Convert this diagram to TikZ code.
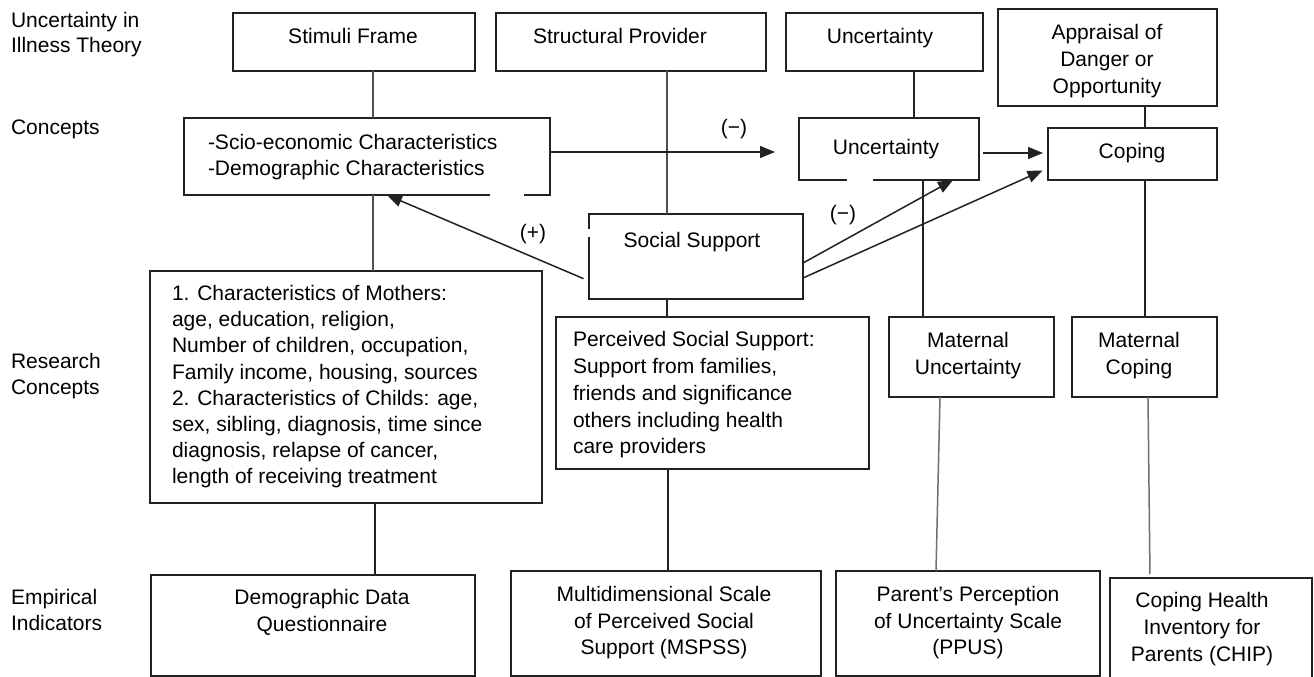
\documentclass[tikz,border=0pt]{standalone}
\usepackage{fontspec}
\setmainfont{Liberation Sans}
\usetikzlibrary{arrows.meta}
\definecolor{ln}{HTML}{222222}
\definecolor{gl}{HTML}{505050}
\definecolor{glb}{HTML}{707070}
\begin{document}
\begin{tikzpicture}[x=1pt,y=-1pt,
  bx/.style={draw=ln, line width=1.7pt, inner sep=0pt, outer sep=0pt, anchor=north west},
  tx/.style={inner sep=0pt, outer sep=0pt, font=\fontsize{21}{26.5}\selectfont},
  con/.style={draw=ln, line width=1.5pt},
  gcon/.style={draw=gl, line width=1.5pt},
  lcon/.style={draw=glb, line width=1.5pt},
  arr/.style={con, -{Triangle[length=15pt,width=12pt]}},
  gap/.style={draw=white, line width=3pt}
]
\path[use as bounding box] (0,0) rectangle (1314,677);
\clip (0,0) rectangle (1314,677);
\fill[white] (0,0) rectangle (1314,677);

% row labels
\node[tx, anchor=north west, align=left, font=\fontsize{21}{24.5}\selectfont] (lab1) at (11,12.5) {Uncertainty in\\Illness Theory};
\node[tx, anchor=base west] (lab2) at (11,134) {Concepts};
\node[tx, anchor=north west, align=left, font=\fontsize{21}{26}\selectfont] (lab3) at (11,353.5) {Research\\Concepts};
\node[tx, anchor=north west, align=left, font=\fontsize{21}{26.7}\selectfont] (lab4) at (11,589) {Empirical\\Indicators};

% boxes
\node[bx, minimum width=242pt, minimum height=58pt] (stim) at (233,13) {};
\node[bx, minimum width=270pt, minimum height=58pt] (struct) at (496,13) {};
\node[bx, minimum width=197pt, minimum height=58pt] (unctop) at (786,13) {};
\node[bx, minimum width=219pt, minimum height=97pt] (appr) at (998,9) {};
\node[bx, minimum width=366pt, minimum height=77pt] (scio) at (184,118) {};
\node[bx, minimum width=180pt, minimum height=62pt] (uncmid) at (799,118) {};
\node[bx, minimum width=169pt, minimum height=52pt] (coping) at (1048,128) {};
\node[bx, minimum width=214pt, minimum height=85pt] (ss) at (589,214) {};
\node[bx, minimum width=392pt, minimum height=232pt] (char) at (150,271) {};
\node[bx, minimum width=313pt, minimum height=152pt] (perc) at (556,317) {};
\node[bx, minimum width=165pt, minimum height=80pt] (matunc) at (889,317) {};
\node[bx, minimum width=145pt, minimum height=80pt] (matcop) at (1072,317) {};
\node[bx, minimum width=324pt, minimum height=101pt] (demo) at (151,575) {};
\node[bx, minimum width=310pt, minimum height=105pt] (mspss) at (511,571) {};
\node[bx, minimum width=264pt, minimum height=105pt] (ppus) at (836,571) {};
\node[bx, minimum width=202pt, minimum height=112pt] (chip) at (1110,578) {};

% small breaks in box outlines
\draw[gap] (490,195) -- (524,195);
\draw[gap] (847,180) -- (873,180);
\draw[gap] (589,229) -- (589,237);

% box texts
\node[tx, anchor=base] (stimT) at (353,44) {Stimuli Frame};
\node[tx, anchor=base] (structT) at (620,44) {Structural Provider};
\node[tx, anchor=base] (unctopT) at (880,44) {Uncertainty};
\node[tx, anchor=north, align=center, font=\fontsize{21}{26.7}\selectfont] (apprT) at (1107,24.7) {Appraisal of\\Danger or\\Opportunity};
\node[tx, anchor=north west, align=left, font=\fontsize{21}{26}\selectfont] (scioT) at (208,134.7) {-Scio-economic Characteristics\\-Demographic Characteristics};
\node[tx, anchor=base] (uncmidT) at (886,154) {Uncertainty};
\node[tx, anchor=base] (copingT) at (1132,158) {Coping};
\node[tx, anchor=base] (ssT) at (692,247) {Social Support};
\node[tx, anchor=north west, align=left, font=\fontsize{21}{26.1}\selectfont] (charT) at (172,285.5) {1. Characteristics of Mothers:\\age, education, religion,\\Number of children, occupation,\\Family income, housing, sources\\2. Characteristics of Childs: age,\\sex, sibling, diagnosis, time since\\diagnosis, relapse of cancer,\\length of receiving treatment};
\node[tx, anchor=north west, align=left, font=\fontsize{21}{26.75}\selectfont] (percT) at (573,331.7) {Perceived Social Support:\\Support from families,\\friends and significance\\others including health\\care providers};
\node[tx, anchor=north, align=center, font=\fontsize{21}{27}\selectfont] (matuncT) at (968,332) {Maternal\\Uncertainty};
\node[tx, anchor=north, align=center, font=\fontsize{21}{27}\selectfont] (matcopT) at (1139,332) {Maternal\\Coping};
\node[tx, anchor=north, align=center, font=\fontsize{21}{26.7}\selectfont] (demoT) at (322,589.7) {Demographic Data\\Questionnaire};
\node[tx, anchor=north, align=center, font=\fontsize{21}{26.6}\selectfont] (mspssT) at (664,586.5) {Multidimensional Scale\\of Perceived Social\\Support (MSPSS)};
\node[tx, anchor=north, align=center, font=\fontsize{21}{26.6}\selectfont] (ppusT) at (968,586.5) {Parent’s Perception\\of Uncertainty Scale\\(PPUS)};
\node[tx, anchor=north, align=center, font=\fontsize{21}{27}\selectfont] (chipT) at (1202,592.7) {Coping Health\\Inventory for\\Parents (CHIP)};

% sign labels
\node[tx, anchor=base] (m1) at (734,134) {(−)};
\node[tx, anchor=base] (p1) at (533,239) {(+)};
\node[tx, anchor=base] (m2) at (843,220) {(−)};

% vertical connectors
\draw[gcon] (stim.south -| 373,0) -- (scio.north -| 373,0);
\draw[gcon] (struct.south -| 667,0) -- (ss.north -| 667,0);
\draw[con] (unctop.south -| 914,0) -- (uncmid.north -| 914,0);
\draw[con] (appr.south -| 1145,0) -- (coping.north -| 1145,0);
\draw[gcon] (scio.south -| 373,0) -- (char.north -| 373,0);
\draw[con] (uncmid.south -| 923,0) -- (matunc.north -| 923,0);
\draw[con] (coping.south -| 1145,0) -- (matcop.north -| 1145,0);
\draw[con] (ss.south -| 667,0) -- (perc.north -| 667,0);
\draw[con] (char.south -| 375,0) -- (demo.north -| 375,0);
\draw[con] (perc.south -| 668,0) -- (mspss.north -| 668,0);
\draw[lcon] (matunc.south -| 940,0) -- (ppus.north -| 936,0);
\draw[lcon, shorten >=4pt] (matcop.south -| 1148,0) -- (chip.north -| 1150,0);

% arrows
\draw[arr, shorten >=24pt] (scio.east |- 0,152) -- (uncmid.west |- 0,152);
\draw[arr, shorten <=4pt, shorten >=5pt] (uncmid.east |- 0,153) -- (coping.west |- 0,153);
\draw[arr, shorten <=6pt] (ss.west |- 0,281) -- (scio.south -| 387,0);
\draw[arr] (ss.east |- 0,263) -- (uncmid.south -| 953,0);
\draw[arr, shorten >=6pt] (ss.east |- 0,278) -- (coping.west |- 0,168);
\end{tikzpicture}
\end{document}
